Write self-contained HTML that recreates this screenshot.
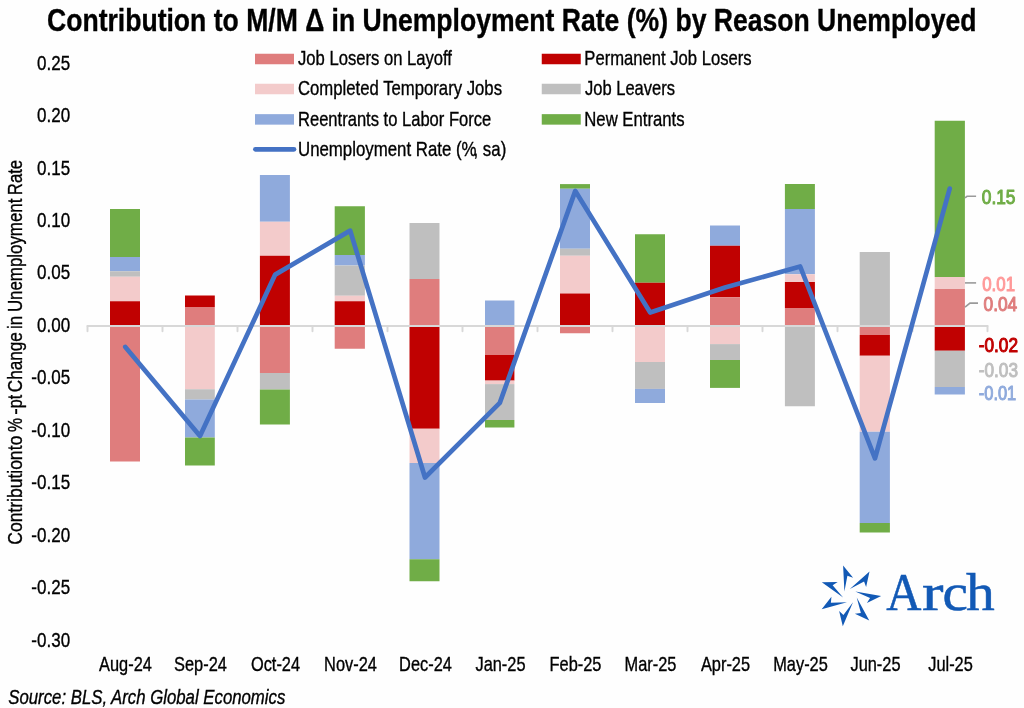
<!DOCTYPE html>
<html><head><meta charset="utf-8"><title>Contribution to M/M change in Unemployment Rate</title>
<style>html,body{margin:0;padding:0;background:#fefefe;}svg{will-change:transform;opacity:0.999}body{width:1024px;height:708px;overflow:hidden;font-family:"Liberation Sans",sans-serif;}</style>
</head><body>
<svg width="1024" height="708" viewBox="0 0 1024 708" style="display:block;font-family:'Liberation Sans',sans-serif">
<rect width="1024" height="708" fill="#fefefe"/>
<text transform="translate(47,30.8) scale(0.82,1)" font-size="31" text-anchor="start" font-weight="bold" font-style="normal" fill="#000" stroke="#000" stroke-width="0.35" textLength="1133.54" lengthAdjust="spacingAndGlyphs">Contribution to M/M Δ in Unemployment Rate (%) by Reason Unemployed</text>
<rect x="110" y="209" width="30" height="48.00" fill="#70AD47"/>
<rect x="110" y="257" width="30" height="14.25" fill="#8FAADC"/>
<rect x="110" y="271.25" width="30" height="5.50" fill="#BFBFBF"/>
<rect x="110" y="276.75" width="30" height="24.50" fill="#F3CBCB"/>
<rect x="110" y="301.25" width="30" height="24.75" fill="#C00000"/>
<rect x="110" y="326" width="30" height="135.50" fill="#DF7D7D"/>
<rect x="185" y="295.5" width="29.80000000000001" height="11.50" fill="#C00000"/>
<rect x="185" y="307" width="29.80000000000001" height="19.00" fill="#DF7D7D"/>
<rect x="185" y="326" width="29.80000000000001" height="63.25" fill="#F3CBCB"/>
<rect x="185" y="389.25" width="29.80000000000001" height="10.25" fill="#BFBFBF"/>
<rect x="185" y="399.5" width="29.80000000000001" height="38.00" fill="#8FAADC"/>
<rect x="185" y="437.5" width="29.80000000000001" height="28.00" fill="#70AD47"/>
<rect x="259.9" y="175" width="30.0" height="46.75" fill="#8FAADC"/>
<rect x="259.9" y="221.75" width="30.0" height="34.00" fill="#F3CBCB"/>
<rect x="259.9" y="255.75" width="30.0" height="70.25" fill="#C00000"/>
<rect x="259.9" y="326" width="30.0" height="47.00" fill="#DF7D7D"/>
<rect x="259.9" y="373" width="30.0" height="16.50" fill="#BFBFBF"/>
<rect x="259.9" y="389.5" width="30.0" height="35.00" fill="#70AD47"/>
<rect x="334.7" y="206.25" width="30.19999999999999" height="48.75" fill="#70AD47"/>
<rect x="334.7" y="255" width="30.19999999999999" height="10.50" fill="#8FAADC"/>
<rect x="334.7" y="265.5" width="30.19999999999999" height="30.25" fill="#BFBFBF"/>
<rect x="334.7" y="295.75" width="30.19999999999999" height="5.50" fill="#F3CBCB"/>
<rect x="334.7" y="301.25" width="30.19999999999999" height="24.75" fill="#C00000"/>
<rect x="334.7" y="326" width="30.19999999999999" height="22.75" fill="#DF7D7D"/>
<rect x="409.5" y="223" width="30.0" height="56.00" fill="#BFBFBF"/>
<rect x="409.5" y="279" width="30.0" height="47.00" fill="#DF7D7D"/>
<rect x="409.5" y="326" width="30.0" height="102.75" fill="#C00000"/>
<rect x="409.5" y="428.75" width="30.0" height="34.25" fill="#F3CBCB"/>
<rect x="409.5" y="463" width="30.0" height="96.25" fill="#8FAADC"/>
<rect x="409.5" y="559.25" width="30.0" height="22.00" fill="#70AD47"/>
<rect x="485" y="300.5" width="29.399999999999977" height="25.50" fill="#8FAADC"/>
<rect x="485" y="326" width="29.399999999999977" height="29.00" fill="#DF7D7D"/>
<rect x="485" y="355" width="29.399999999999977" height="25.60" fill="#C00000"/>
<rect x="485" y="380.6" width="29.399999999999977" height="3.50" fill="#F3CBCB"/>
<rect x="485" y="384.1" width="29.399999999999977" height="35.90" fill="#BFBFBF"/>
<rect x="485" y="420" width="29.399999999999977" height="7.50" fill="#70AD47"/>
<rect x="560" y="184.1" width="30" height="4.65" fill="#70AD47"/>
<rect x="560" y="188.75" width="30" height="60.00" fill="#8FAADC"/>
<rect x="560" y="248.75" width="30" height="7.00" fill="#BFBFBF"/>
<rect x="560" y="255.75" width="30" height="37.75" fill="#F3CBCB"/>
<rect x="560" y="293.5" width="30" height="32.50" fill="#C00000"/>
<rect x="560" y="326" width="30" height="7.25" fill="#DF7D7D"/>
<rect x="635" y="234.25" width="30" height="48.50" fill="#70AD47"/>
<rect x="635" y="282.75" width="30" height="43.25" fill="#C00000"/>
<rect x="635" y="326" width="30" height="36.00" fill="#F3CBCB"/>
<rect x="635" y="362" width="30" height="26.90" fill="#BFBFBF"/>
<rect x="635" y="388.9" width="30" height="14.10" fill="#8FAADC"/>
<rect x="710" y="225.5" width="30" height="20.25" fill="#8FAADC"/>
<rect x="710" y="245.75" width="30" height="51.50" fill="#C00000"/>
<rect x="710" y="297.25" width="30" height="28.75" fill="#DF7D7D"/>
<rect x="710" y="326" width="30" height="18.10" fill="#F3CBCB"/>
<rect x="710" y="344.1" width="30" height="15.90" fill="#BFBFBF"/>
<rect x="710" y="360" width="30" height="27.90" fill="#70AD47"/>
<rect x="784.9" y="184" width="30.0" height="25.00" fill="#70AD47"/>
<rect x="784.9" y="209" width="30.0" height="65.25" fill="#8FAADC"/>
<rect x="784.9" y="274.25" width="30.0" height="7.75" fill="#F3CBCB"/>
<rect x="784.9" y="282" width="30.0" height="26.00" fill="#C00000"/>
<rect x="784.9" y="308" width="30.0" height="18.00" fill="#DF7D7D"/>
<rect x="784.9" y="326" width="30.0" height="80.25" fill="#BFBFBF"/>
<rect x="859.7" y="252" width="30.199999999999932" height="74.00" fill="#BFBFBF"/>
<rect x="859.7" y="326" width="30.199999999999932" height="9.00" fill="#DF7D7D"/>
<rect x="859.7" y="335" width="30.199999999999932" height="20.75" fill="#C00000"/>
<rect x="859.7" y="355.75" width="30.199999999999932" height="76.00" fill="#F3CBCB"/>
<rect x="859.7" y="431.75" width="30.199999999999932" height="91.25" fill="#8FAADC"/>
<rect x="859.7" y="523" width="30.199999999999932" height="9.50" fill="#70AD47"/>
<rect x="934.7" y="120.75" width="30.199999999999932" height="156.25" fill="#70AD47"/>
<rect x="934.7" y="277" width="30.199999999999932" height="12.00" fill="#F3CBCB"/>
<rect x="934.7" y="289" width="30.199999999999932" height="37.00" fill="#DF7D7D"/>
<rect x="934.7" y="326" width="30.199999999999932" height="24.75" fill="#C00000"/>
<rect x="934.7" y="350.75" width="30.199999999999932" height="36.25" fill="#BFBFBF"/>
<rect x="934.7" y="387" width="30.199999999999932" height="7.50" fill="#8FAADC"/>
<path d="M87.5 326 H987.5" stroke="#D8D8D8" stroke-width="1.9" stroke-linecap="round" fill="none"/>
<path d="M87.5 326 V331.2" stroke="#D8D8D8" stroke-width="1.9" stroke-linecap="round" fill="none"/>
<path d="M162.5 326 V331.2" stroke="#D8D8D8" stroke-width="1.9" stroke-linecap="round" fill="none"/>
<path d="M237.5 326 V331.2" stroke="#D8D8D8" stroke-width="1.9" stroke-linecap="round" fill="none"/>
<path d="M312.5 326 V331.2" stroke="#D8D8D8" stroke-width="1.9" stroke-linecap="round" fill="none"/>
<path d="M387.5 326 V331.2" stroke="#D8D8D8" stroke-width="1.9" stroke-linecap="round" fill="none"/>
<path d="M462.5 326 V331.2" stroke="#D8D8D8" stroke-width="1.9" stroke-linecap="round" fill="none"/>
<path d="M537.5 326 V331.2" stroke="#D8D8D8" stroke-width="1.9" stroke-linecap="round" fill="none"/>
<path d="M612.5 326 V331.2" stroke="#D8D8D8" stroke-width="1.9" stroke-linecap="round" fill="none"/>
<path d="M687.5 326 V331.2" stroke="#D8D8D8" stroke-width="1.9" stroke-linecap="round" fill="none"/>
<path d="M762.5 326 V331.2" stroke="#D8D8D8" stroke-width="1.9" stroke-linecap="round" fill="none"/>
<path d="M837.5 326 V331.2" stroke="#D8D8D8" stroke-width="1.9" stroke-linecap="round" fill="none"/>
<path d="M912.5 326 V331.2" stroke="#D8D8D8" stroke-width="1.9" stroke-linecap="round" fill="none"/>
<path d="M987.5 326 V331.2" stroke="#D8D8D8" stroke-width="1.9" stroke-linecap="round" fill="none"/>
<polyline points="125.3,346.9 200,436 275.2,274.6 350.2,230.6 425,477.5 499.8,402.9 575.3,190.9 650.2,312.6 725,287.6 800.2,266.5 875,458.3 949.7,188.6" fill="none" stroke="#4472C4" stroke-width="4.7" stroke-linejoin="round" stroke-linecap="round"/>
<text transform="translate(70.1,69.6) scale(0.83,1)" font-size="20.5" text-anchor="end" font-weight="normal" font-style="normal" fill="#000" stroke="#000" stroke-width="0.35">0.25</text>
<text transform="translate(70.1,122.05) scale(0.83,1)" font-size="20.5" text-anchor="end" font-weight="normal" font-style="normal" fill="#000" stroke="#000" stroke-width="0.35">0.20</text>
<text transform="translate(70.1,174.5) scale(0.83,1)" font-size="20.5" text-anchor="end" font-weight="normal" font-style="normal" fill="#000" stroke="#000" stroke-width="0.35">0.15</text>
<text transform="translate(70.1,226.95) scale(0.83,1)" font-size="20.5" text-anchor="end" font-weight="normal" font-style="normal" fill="#000" stroke="#000" stroke-width="0.35">0.10</text>
<text transform="translate(70.1,279.4) scale(0.83,1)" font-size="20.5" text-anchor="end" font-weight="normal" font-style="normal" fill="#000" stroke="#000" stroke-width="0.35">0.05</text>
<text transform="translate(70.1,331.85) scale(0.83,1)" font-size="20.5" text-anchor="end" font-weight="normal" font-style="normal" fill="#000" stroke="#000" stroke-width="0.35">0.00</text>
<text transform="translate(70.1,384.3) scale(0.83,1)" font-size="20.5" text-anchor="end" font-weight="normal" font-style="normal" fill="#000" stroke="#000" stroke-width="0.35">-0.05</text>
<text transform="translate(70.1,436.75) scale(0.83,1)" font-size="20.5" text-anchor="end" font-weight="normal" font-style="normal" fill="#000" stroke="#000" stroke-width="0.35">-0.10</text>
<text transform="translate(70.1,489.2) scale(0.83,1)" font-size="20.5" text-anchor="end" font-weight="normal" font-style="normal" fill="#000" stroke="#000" stroke-width="0.35">-0.15</text>
<text transform="translate(70.1,541.65) scale(0.83,1)" font-size="20.5" text-anchor="end" font-weight="normal" font-style="normal" fill="#000" stroke="#000" stroke-width="0.35">-0.20</text>
<text transform="translate(70.1,594.1) scale(0.83,1)" font-size="20.5" text-anchor="end" font-weight="normal" font-style="normal" fill="#000" stroke="#000" stroke-width="0.35">-0.25</text>
<text transform="translate(70.1,646.55) scale(0.83,1)" font-size="20.5" text-anchor="end" font-weight="normal" font-style="normal" fill="#000" stroke="#000" stroke-width="0.35">-0.30</text>
<text transform="translate(22.3,544.70) rotate(-90) scale(0.82,1)" font-size="20" stroke="#000" stroke-width="0.35" textLength="115.00" lengthAdjust="spacingAndGlyphs">Contribution</text>
<text transform="translate(22.3,450.20) rotate(-90) scale(0.82,1)" font-size="20" stroke="#000" stroke-width="0.35" textLength="17.68" lengthAdjust="spacingAndGlyphs">to</text>
<text transform="translate(22.3,431.90) rotate(-90) scale(0.82,1)" font-size="20" stroke="#000" stroke-width="0.35" textLength="17.07" lengthAdjust="spacingAndGlyphs">%</text>
<text transform="translate(22.3,414.80) rotate(-90) scale(0.82,1)" font-size="20" stroke="#000" stroke-width="0.35" textLength="7.93" lengthAdjust="spacingAndGlyphs">-</text>
<text transform="translate(22.3,408.20) rotate(-90) scale(0.82,1)" font-size="20" stroke="#000" stroke-width="0.35" textLength="16.34" lengthAdjust="spacingAndGlyphs">pt</text>
<text transform="translate(22.3,392.20) rotate(-90) scale(0.82,1)" font-size="20" stroke="#000" stroke-width="0.35" textLength="73.17" lengthAdjust="spacingAndGlyphs">Change</text>
<text transform="translate(22.3,328.90) rotate(-90) scale(0.82,1)" font-size="20" stroke="#000" stroke-width="0.35" textLength="15.98" lengthAdjust="spacingAndGlyphs">in</text>
<text transform="translate(22.3,312.10) rotate(-90) scale(0.82,1)" font-size="20" stroke="#000" stroke-width="0.35" textLength="138.41" lengthAdjust="spacingAndGlyphs">Unemployment</text>
<text transform="translate(22.3,195.20) rotate(-90) scale(0.82,1)" font-size="20" stroke="#000" stroke-width="0.35" textLength="43.17" lengthAdjust="spacingAndGlyphs">Rate</text>
<text transform="translate(125.5,670.7) scale(0.82,1)" font-size="20" text-anchor="middle" font-weight="normal" font-style="normal" fill="#000" stroke="#000" stroke-width="0.35">Aug-24</text>
<text transform="translate(200.5,670.7) scale(0.82,1)" font-size="20" text-anchor="middle" font-weight="normal" font-style="normal" fill="#000" stroke="#000" stroke-width="0.35">Sep-24</text>
<text transform="translate(275.5,670.7) scale(0.82,1)" font-size="20" text-anchor="middle" font-weight="normal" font-style="normal" fill="#000" stroke="#000" stroke-width="0.35">Oct-24</text>
<text transform="translate(350.5,670.7) scale(0.82,1)" font-size="20" text-anchor="middle" font-weight="normal" font-style="normal" fill="#000" stroke="#000" stroke-width="0.35">Nov-24</text>
<text transform="translate(425.5,670.7) scale(0.82,1)" font-size="20" text-anchor="middle" font-weight="normal" font-style="normal" fill="#000" stroke="#000" stroke-width="0.35">Dec-24</text>
<text transform="translate(500.5,670.7) scale(0.82,1)" font-size="20" text-anchor="middle" font-weight="normal" font-style="normal" fill="#000" stroke="#000" stroke-width="0.35">Jan-25</text>
<text transform="translate(575.5,670.7) scale(0.82,1)" font-size="20" text-anchor="middle" font-weight="normal" font-style="normal" fill="#000" stroke="#000" stroke-width="0.35">Feb-25</text>
<text transform="translate(650.5,670.7) scale(0.82,1)" font-size="20" text-anchor="middle" font-weight="normal" font-style="normal" fill="#000" stroke="#000" stroke-width="0.35">Mar-25</text>
<text transform="translate(725.5,670.7) scale(0.82,1)" font-size="20" text-anchor="middle" font-weight="normal" font-style="normal" fill="#000" stroke="#000" stroke-width="0.35">Apr-25</text>
<text transform="translate(800.5,670.7) scale(0.82,1)" font-size="20" text-anchor="middle" font-weight="normal" font-style="normal" fill="#000" stroke="#000" stroke-width="0.35">May-25</text>
<text transform="translate(875.5,670.7) scale(0.82,1)" font-size="20" text-anchor="middle" font-weight="normal" font-style="normal" fill="#000" stroke="#000" stroke-width="0.35">Jun-25</text>
<text transform="translate(950.5,670.7) scale(0.82,1)" font-size="20" text-anchor="middle" font-weight="normal" font-style="normal" fill="#000" stroke="#000" stroke-width="0.35">Jul-25</text>
<text transform="translate(8.3,703.9) scale(0.82,1)" font-size="20" text-anchor="start" font-weight="normal" font-style="italic" fill="#000" stroke="#000" stroke-width="0.35" textLength="337.80" lengthAdjust="spacingAndGlyphs">Source: BLS, Arch Global Economics</text>
<rect x="255" y="53.75" width="39" height="10.5" fill="#DF7D7D"/>
<text transform="translate(298,65.4) scale(0.82,1)" font-size="20" text-anchor="start" font-weight="normal" font-style="normal" fill="#000" stroke="#000" stroke-width="0.35" textLength="187.80" lengthAdjust="spacingAndGlyphs">Job Losers on Layoff</text>
<rect x="255" y="83.75" width="39" height="10.5" fill="#F3CBCB"/>
<text transform="translate(298,95.4) scale(0.82,1)" font-size="20" text-anchor="start" font-weight="normal" font-style="normal" fill="#000" stroke="#000" stroke-width="0.35" textLength="248.78" lengthAdjust="spacingAndGlyphs">Completed Temporary Jobs</text>
<rect x="255" y="114.15" width="39" height="10.5" fill="#8FAADC"/>
<text transform="translate(298,125.80000000000001) scale(0.82,1)" font-size="20" text-anchor="start" font-weight="normal" font-style="normal" fill="#000" stroke="#000" stroke-width="0.35" textLength="235.67" lengthAdjust="spacingAndGlyphs">Reentrants to Labor Force</text>
<path d="M255.4 149.3 H294" stroke="#4472C4" stroke-width="4.7" stroke-linecap="round"/>
<text transform="translate(298,155.70000000000002) scale(0.82,1)" font-size="20" text-anchor="start" font-weight="normal" font-style="normal" fill="#000" stroke="#000" stroke-width="0.35" textLength="253.96" lengthAdjust="spacingAndGlyphs">Unemployment Rate (%<tspan dx="-3.6">,</tspan> sa)</text>
<rect x="541.75" y="53.75" width="39" height="10.5" fill="#C00000"/>
<text transform="translate(584.3,65.4) scale(0.82,1)" font-size="20" text-anchor="start" font-weight="normal" font-style="normal" fill="#000" stroke="#000" stroke-width="0.35" textLength="204.02" lengthAdjust="spacingAndGlyphs">Permanent Job Losers</text>
<rect x="541.75" y="83.75" width="39" height="10.5" fill="#BFBFBF"/>
<text transform="translate(585,95.4) scale(0.82,1)" font-size="20" text-anchor="start" font-weight="normal" font-style="normal" fill="#000" stroke="#000" stroke-width="0.35" textLength="109.76" lengthAdjust="spacingAndGlyphs">Job Leavers</text>
<rect x="541.75" y="114.15" width="39" height="10.5" fill="#70AD47"/>
<text transform="translate(584.3,125.80000000000001) scale(0.82,1)" font-size="20" text-anchor="start" font-weight="normal" font-style="normal" fill="#000" stroke="#000" stroke-width="0.35" textLength="122.26" lengthAdjust="spacingAndGlyphs">New Entrants</text>
<text transform="translate(981.75,204) scale(0.82,1)" font-size="20" fill="#70AD47" stroke="#70AD47" stroke-width="1.05" stroke-linejoin="round" textLength="41.16" lengthAdjust="spacingAndGlyphs">0.15</text>
<text transform="translate(982.25,290.75) scale(0.82,1)" font-size="20" fill="#FF9999" stroke="#FF9999" stroke-width="1.05" stroke-linejoin="round" textLength="39.94" lengthAdjust="spacingAndGlyphs">0.01</text>
<text transform="translate(983.5,311) scale(0.82,1)" font-size="20" fill="#DF7D7D" stroke="#DF7D7D" stroke-width="1.05" stroke-linejoin="round" textLength="41.16" lengthAdjust="spacingAndGlyphs">0.04</text>
<text transform="translate(978.75,352) scale(0.82,1)" font-size="20" fill="#C00000" stroke="#C00000" stroke-width="1.05" stroke-linejoin="round" textLength="47.87" lengthAdjust="spacingAndGlyphs">-0.02</text>
<text transform="translate(978.75,376.5) scale(0.82,1)" font-size="20" fill="#BFBFBF" stroke="#BFBFBF" stroke-width="1.05" stroke-linejoin="round" textLength="47.87" lengthAdjust="spacingAndGlyphs">-0.03</text>
<text transform="translate(978.75,400) scale(0.82,1)" font-size="20" fill="#8FAADC" stroke="#8FAADC" stroke-width="1.05" stroke-linejoin="round" textLength="45.73" lengthAdjust="spacingAndGlyphs">-0.01</text>
<path d="M965 197.8 L967 196.25 H976.1" stroke="#9A9A9A" stroke-width="1.6" fill="none"/>
<path d="M965 282.9 H976.1" stroke="#9A9A9A" stroke-width="1.6" fill="none"/>
<path d="M965 307.2 L970 303.1 H978" stroke="#9A9A9A" stroke-width="1.6" fill="none"/>
<polygon points="843.10,565.40 853.10,577.70 847.40,575.80 844.40,591.60" fill="#1259B5"/>
<polygon points="869.51,571.57 866.12,587.05 864.06,581.41 849.83,588.92" fill="#1259B5"/>
<polygon points="881.15,596.06 866.93,603.07 870.05,597.94 855.32,591.49" fill="#1259B5"/>
<polygon points="869.26,620.43 854.91,613.69 860.87,612.92 856.72,597.39" fill="#1259B5"/>
<polygon points="842.79,626.33 839.12,610.91 843.43,615.09 852.99,602.16" fill="#1259B5"/>
<polygon points="821.68,609.32 831.44,596.83 830.86,602.81 846.93,602.22" fill="#1259B5"/>
<polygon points="821.81,582.20 837.67,582.05 832.63,585.32 843.11,597.52" fill="#1259B5"/>
<text transform="translate(886.2,609.7) scale(0.92,1)" font-family="'Liberation Serif',serif" font-size="53" fill="#1259B5" stroke="#1259B5" stroke-width="0.5">A</text>
<text transform="translate(922.0,609.7) scale(1.22,1)" font-family="'Liberation Serif',serif" font-size="53" fill="#1259B5" stroke="#1259B5" stroke-width="0.5">r</text>
<text transform="translate(942.5,609.7) scale(1.08,1)" font-family="'Liberation Serif',serif" font-size="53" fill="#1259B5" stroke="#1259B5" stroke-width="0.5">c</text>
<text transform="translate(966.0,609.7) scale(1.085,1)" font-family="'Liberation Serif',serif" font-size="53" fill="#1259B5" stroke="#1259B5" stroke-width="0.5">h</text>
</svg>
</body></html>
